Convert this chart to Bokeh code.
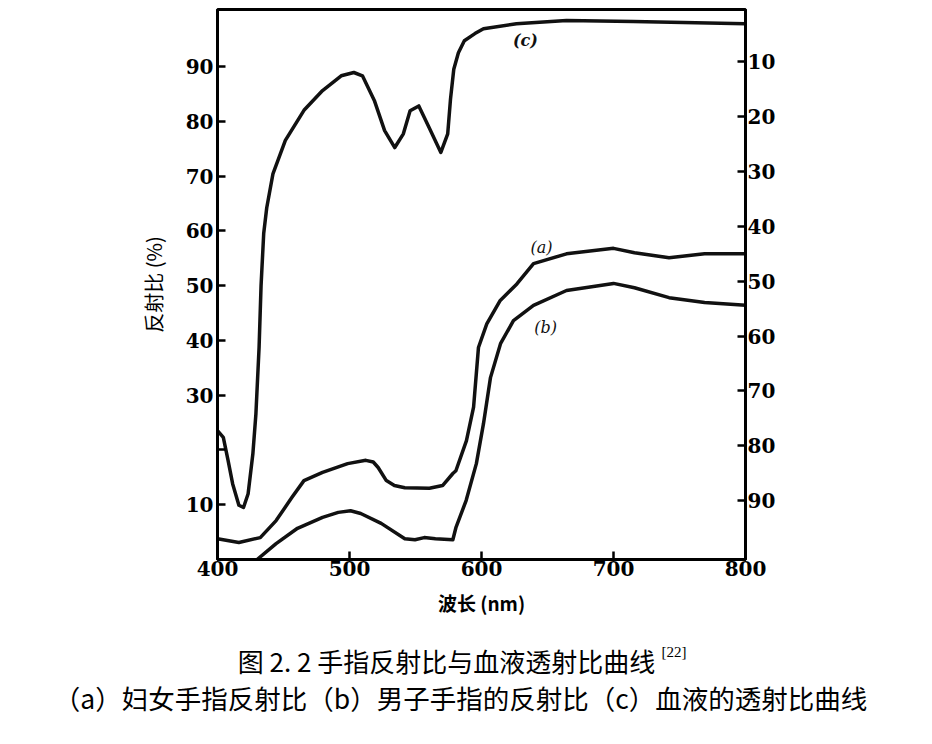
from bokeh.plotting import figure
from bokeh.models import Range1d, LinearAxis, FixedTicker, Label
from bokeh.layouts import column
from bokeh.embed import file_html
from bokeh.resources import INLINE

# ---- data ----
# (a) women's finger reflectance (%)
wl_a = [400, 416.2, 432.4, 444.4, 456.3, 465.5, 479.6, 498.6, 512.4, 518.0, 521.7, 527.9, 534.0, 541.9,
        560.5, 570.5, 578.3, 580.6, 588.6, 594.0, 597.7, 604.0, 614.2, 626.8, 639.4, 664.4,
        700, 715.9, 742.1, 769.0, 800]
refl_a = [3.8, 3.1, 4.0, 7.1, 11.3, 14.4, 15.9, 17.5, 18.1, 17.8, 16.8, 14.4, 13.5, 13.1,
          13.0, 13.5, 15.7, 16.2, 21.7, 27.8, 38.7, 43.0, 47.3, 50.3, 54.0, 55.8,
          56.8, 56.0, 55.1, 55.8, 55.8]

# (b) men's finger reflectance (%)
wl_b = [430, 444.4, 460.6, 479.6, 491.5, 500.8, 508.5, 524.0, 541.9, 549.6, 556.6, 565.1,
        578.3, 580.6, 588.4, 596.1, 601.5, 606.8, 614.4, 624.2, 639.4, 664.4, 700, 715.9,
        742.1, 769.0, 800]
refl_b = [0.0, 2.9, 5.7, 7.7, 8.6, 8.9, 8.4, 6.6, 3.8, 3.6, 4.0, 3.8,
          3.6, 5.8, 10.8, 17.5, 24.8, 33.2, 39.4, 43.6, 46.4, 49.1, 50.4, 49.6,
          47.8, 46.9, 46.4]

# (c) blood transmittance curve
wl_c = [400, 404.4, 408.0, 411.5, 416.2, 419.7, 423.2, 426.8, 429.1, 431.5, 433.0, 435.0,
        437.3, 442.0, 451.4, 465.5, 479.6, 493.7, 503.3, 509.8, 518.8, 526.6, 534.3, 540.8,
        545.9, 552.5, 560.2, 569.2, 574.4, 576.5, 579.0, 582.5, 587.0, 595.0, 601.5, 626.5,
        664.4, 715.0, 800]
val_c = [23.5, 22.3, 18.1, 13.8, 9.9, 9.5, 12.0, 19.3, 26.6, 38.7, 50.0, 59.5,
         64.2, 70.4, 76.5, 82.0, 85.6, 88.3, 88.9, 88.3, 83.8, 78.3, 75.2, 77.7,
         81.9, 82.8, 78.9, 74.3, 77.7, 84.0, 89.5, 92.5, 94.7, 96.0, 96.9, 97.8,
         98.4, 98.2, 97.8]

x_ticks = [400, 500, 600, 700, 800]
left_ticks = [10, 20, 30, 40, 50, 60, 70, 80, 90]
right_ticks = [10, 20, 30, 40, 50, 60, 70, 80, 90]

curve_labels = ["(a)", "(b)", "(c)"]
curve_label_x = [645.5, 648.5, 633.3]
curve_label_y = [57.0, 42.3, 94.7]

caption1 = "图 2. 2 手指反射比与血液透射比曲线"
caption_ref = "[22]"
caption2 = "（a）妇女手指反射比（b）男子手指的反射比（c）血液的透射比曲线"

ink = "#111111"
tick_font = "DejaVu Serif"

# ---- main figure ----
p = figure(width=932, height=630, output_backend="svg", toolbar_location=None,
           x_range=Range1d(400, 800), y_range=Range1d(0, 100.4),
           min_border_left=217, min_border_right=187,
           min_border_top=9, min_border_bottom=71,
           background_fill_color="white", border_fill_color="white")
p.frame_align = False
p.xgrid.visible = False
p.ygrid.visible = False
p.outline_line_color = "black"
p.outline_line_width = 3

for xs, ys in [(wl_a, refl_a), (wl_b, refl_b), (wl_c, val_c)]:
    p.line(xs, ys, line_color=ink, line_width=3.5, line_join="round", line_cap="round")


def style_axis(ax, standoff):
    ax.major_tick_in = 8
    ax.major_tick_out = 0
    ax.minor_tick_line_color = None
    ax.axis_line_width = 3
    ax.major_tick_line_width = 2.5
    ax.major_label_text_font = tick_font
    ax.major_label_text_font_style = "bold"
    ax.major_label_text_font_size = "20px"
    ax.major_label_text_color = "black"
    ax.major_label_standoff = standoff
    ax.axis_label_text_color = "black"


xa = p.xaxis[0]
xa.ticker = FixedTicker(ticks=x_ticks)
style_axis(xa, 1)
xa.axis_label = "波长 (nm)"
xa.axis_label_text_font = "Noto Sans CJK SC"
xa.axis_label_text_font_style = "bold"
xa.axis_label_text_font_size = "19px"
xa.axis_label_standoff = 10

ya = p.yaxis[0]
ya.ticker = FixedTicker(ticks=left_ticks)
ya.major_label_overrides = {20: ""}
style_axis(ya, 4)
ya.axis_label = "反射比 (%)"
ya.axis_label_text_font = "Noto Sans CJK SC"
ya.axis_label_text_font_style = "normal"
ya.axis_label_text_font_size = "20px"
ya.axis_label_standoff = 15

p.extra_y_ranges = {"right": Range1d(100.7, 0.5)}
ra = LinearAxis(y_range_name="right", ticker=FixedTicker(ticks=right_ticks))
style_axis(ra, 2)
p.add_layout(ra, "right")

for t, x, y in zip(curve_labels, curve_label_x, curve_label_y):
    p.add_layout(Label(x=x, y=y, text=t, text_align="center", text_baseline="middle",
                       text_font="DejaVu Serif",
                       text_font_style="bold italic" if t == "(c)" else "italic",
                       text_font_size="16px", text_color=ink))

# ---- caption strip ----
cap = figure(width=932, height=114, output_backend="svg", toolbar_location=None,
             x_range=Range1d(0, 932), y_range=Range1d(114, 0),
             min_border=0, background_fill_color="white", border_fill_color="white")
cap.frame_align = False
cap.axis.visible = False
cap.grid.visible = False
cap.outline_line_color = None
cap.add_layout(Label(x=446, y=30, text=caption1, text_align="center",
                     text_baseline="middle", text_font="Noto Sans CJK SC",
                     text_font_size="26px", text_color="black"))
cap.add_layout(Label(x=661, y=21, text=caption_ref, text_align="left",
                     text_baseline="middle", text_font="Liberation Serif",
                     text_font_size="15px", text_color="black"))
cap.add_layout(Label(x=460, y=67, text=caption2, text_align="center",
                     text_baseline="middle", text_font="Noto Sans CJK SC",
                     text_font_size="26.5px", text_color="black"))

layout = column(p, cap, spacing=0)
open("out.html", "w").write(file_html(layout, INLINE))
